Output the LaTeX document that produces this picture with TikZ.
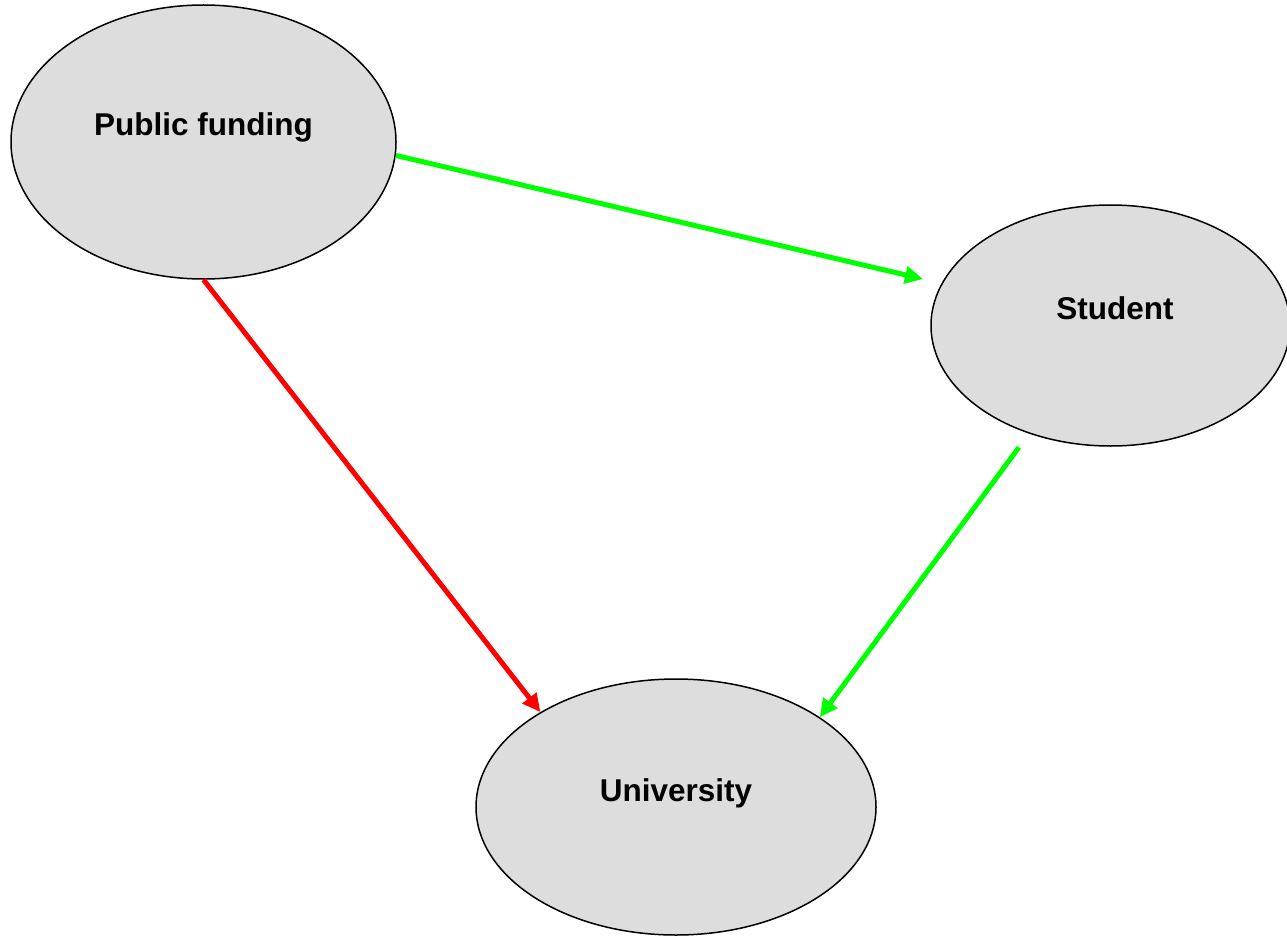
\documentclass[tikz,border=0pt]{standalone}
\usepackage{fontspec}
\setmainfont{Liberation Sans}
\usetikzlibrary{shapes.geometric,arrows.meta}
\definecolor{nodegray}{HTML}{DDDDDD}
\definecolor{arrowgreen}{HTML}{00FF00}
\definecolor{arrowred}{HTML}{FF0000}

\begin{document}
\begin{tikzpicture}[x=1pt,y=-1pt,
    bubble/.style={ellipse, draw=black, line width=1.5pt, fill=nodegray, inner sep=0pt},
    lbl/.style={font=\fontsize{31.5}{36}\selectfont\bfseries, anchor=base, inner sep=0pt},
    link/.style={line width=5pt, -{Triangle[length=18pt,width=17pt]}}]
    % Fix the page size
    \useasboundingbox (0,0) rectangle (1287,936);

    % Draw the three ellipses
    \node[bubble, minimum width=385pt, minimum height=274pt] (pf) at (203.5,142) {};
    \node[bubble, minimum width=359pt, minimum height=241pt] (st) at (1110.5,325.5) {};
    \node[bubble, minimum width=400pt, minimum height=256pt] (uni) at (676,807) {};

    % Put the names in the upper half of each ellipse
    \node[lbl] (pflbl) at (203.5,136) {Public funding};
    \node[lbl] (stlbl) at (1115,319) {Student};
    \node[lbl] (unilbl) at (676,801) {University};

    % Draw the arrows
    \draw[link, arrowgreen, shorten >=19pt] (pf.-4.75) -- (st.166.3);
    \draw[link, arrowred] (pf.south) -- (uni.145.6);
    \draw[link, arrowgreen, shorten <=17pt] (st.233.6) -- (uni.32.6);

\end{tikzpicture}
\end{document}
